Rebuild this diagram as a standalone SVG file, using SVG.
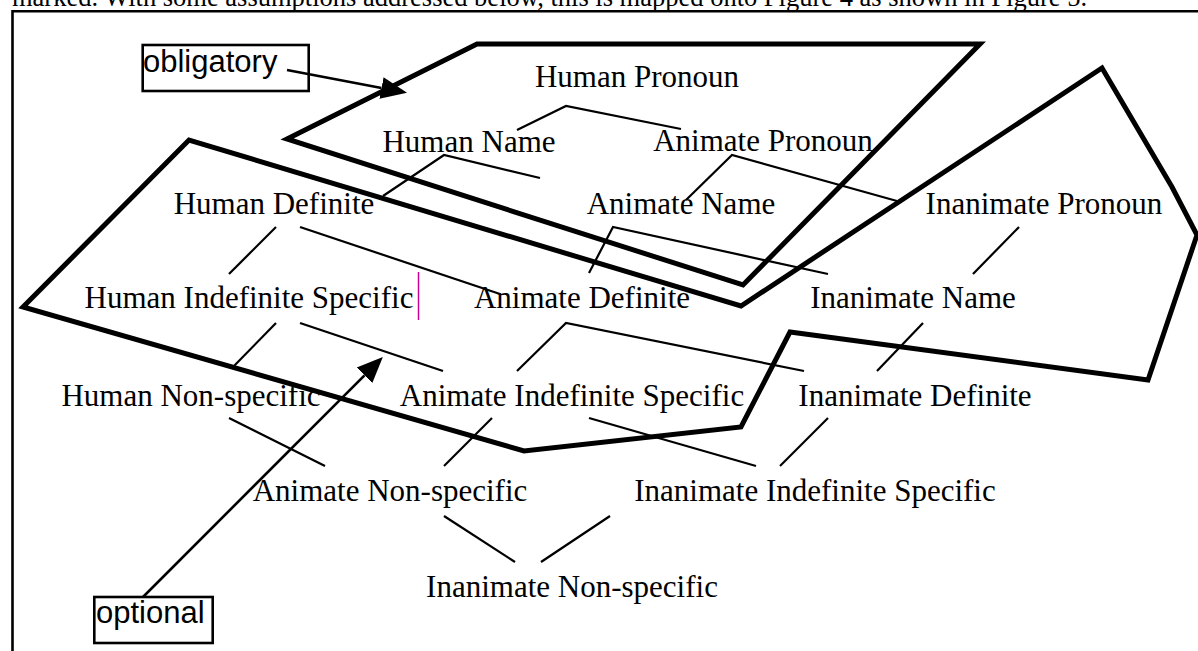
<svg xmlns="http://www.w3.org/2000/svg" width="1198" height="651" viewBox="0 0 1198 651">
<style>
.lbl{font-family:"Liberation Serif","Times New Roman",serif;font-size:31px;fill:#000;text-anchor:middle}
.call{font-family:"Liberation Sans",Arial,sans-serif;font-size:31px;fill:#000}
.box{fill:none;stroke:#000;stroke-width:2.6}
.thin{fill:none;stroke:#000;stroke-width:2.2}
.thick{fill:none;stroke:#000;stroke-width:5;stroke-linejoin:miter}
.arr{fill:none;stroke:#000;stroke-width:2.6;marker-end:url(#ah)}
</style>
<defs>
<marker id="ah" markerUnits="userSpaceOnUse" markerWidth="30" markerHeight="30" viewBox="0 -15 30 30" refX="0" refY="0" orient="auto"><path d="M0,-11 L26,0 L0,11 Z" fill="#000"/></marker>
</defs>
<rect width="1198" height="651" fill="#fff"/>
<text x="12" y="5.5" font-family="'Liberation Serif','Times New Roman',serif" font-size="26.5" fill="#000">marked. With some assumptions addressed below, this is mapped onto Figure 4 as shown in Figure 5.</text>
<path d="M12.5,651 V11.3 H1198" fill="none" stroke="#000" stroke-width="2.6"/>

<g id="region-obligatory"><polygon class="thick" points="287,139 477,44 980,44 743,285"/></g>
<g id="region-optional"><polygon class="thick" points="23,307 189,140 741,306 1102,68 1172,187 1197,235 1148,380 790,332 741,427 524,451"/></g>

<g id="connectors">
<polyline class="thin" points="517,130 566,106 681,129"/>
<polyline class="thin" points="383,196 444,155 540,178"/>
<polyline class="thin" points="686,200 732,155 897,201"/>
<polyline class="thin" points="589,273 613,227 828,274"/>
<line class="thin" x1="276" y1="227" x2="229" y2="274"/>
<line class="thin" x1="300" y1="227" x2="500" y2="294"/>
<line class="thin" x1="1019" y1="227" x2="973" y2="274"/>
<line class="thin" x1="276" y1="323" x2="233" y2="367"/>
<line class="thin" x1="300" y1="323" x2="443" y2="371"/>
<polyline class="thin" points="517,371 566,323 804,371"/>
<line class="thin" x1="923" y1="323" x2="877" y2="371"/>
<line class="thin" x1="229" y1="418" x2="325" y2="466"/>
<line class="thin" x1="492" y1="418" x2="444" y2="466"/>
<line class="thin" x1="589" y1="418" x2="756" y2="466"/>
<line class="thin" x1="828" y1="418" x2="780" y2="466"/>
<line class="thin" x1="444" y1="516" x2="515" y2="562"/>
<line class="thin" x1="610" y1="516" x2="541" y2="562"/>
<line class="arr" x1="287" y1="70" x2="381.5" y2="88"/>
<line class="arr" x1="143" y1="597" x2="364.5" y2="375.3"/>
</g>

<g id="n-human-pronoun"><text class="lbl" x="637" y="87">Human Pronoun</text></g>
<g id="n-human-name"><text class="lbl" x="469" y="152">Human Name</text></g>
<g id="n-animate-pronoun"><text class="lbl" x="763" y="151">Animate Pronoun</text></g>
<g id="n-human-definite"><text class="lbl" x="274" y="214">Human Definite</text></g>
<g id="n-animate-name"><text class="lbl" x="681" y="214">Animate Name</text></g>
<g id="n-inanimate-pronoun"><text class="lbl" x="1044" y="214">Inanimate Pronoun</text></g>
<g id="n-human-indef-spec"><text class="lbl" x="249" y="308">Human Indefinite Specific</text></g>
<g id="n-animate-definite"><text class="lbl" x="582" y="308">Animate Definite</text></g>
<g id="n-inanimate-name"><text class="lbl" x="913" y="308">Inanimate Name</text></g>
<g id="n-human-nonspec"><text class="lbl" x="191" y="406">Human Non-specific</text></g>
<g id="n-animate-indef-spec"><text class="lbl" x="572" y="406">Animate Indefinite Specific</text></g>
<g id="n-inanimate-definite"><text class="lbl" x="915" y="406">Inanimate Definite</text></g>
<g id="n-animate-nonspec"><text class="lbl" x="390" y="501">Animate Non-specific</text></g>
<g id="n-inanimate-indef-spec"><text class="lbl" x="815" y="501">Inanimate Indefinite Specific</text></g>
<g id="n-inanimate-nonspec"><text class="lbl" x="572" y="597">Inanimate Non-specific</text></g>

<g id="callout-obligatory"><rect class="box" x="142.7" y="45" width="166" height="46"/><text class="call" x="143" y="72">obligatory</text></g>
<g id="callout-optional"><rect class="box" x="94.3" y="597" width="118.4" height="46"/><text class="call" x="96" y="623">optional</text></g>

<line x1="418.5" y1="272" x2="418.5" y2="320" stroke="#cc0099" stroke-width="1.5"/>
</svg>
